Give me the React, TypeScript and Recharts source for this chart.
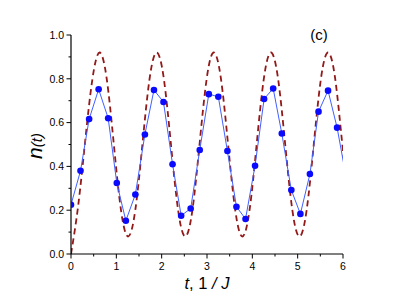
import React from "react";
import { LineChart, Line, XAxis, YAxis } from "recharts";

// blue points (simulation), t in 1/J
const simT = [0, 0.21, 0.4, 0.61, 0.82, 1.01, 1.21, 1.42, 1.63, 1.83, 2.04, 2.24, 2.43, 2.64, 2.84, 3.04, 3.25, 3.45, 3.65, 3.85, 4.06, 4.26, 4.46, 4.65, 4.86, 5.06, 5.27, 5.46, 5.67, 5.87, 6.07];
const simN = [0.225, 0.38, 0.616, 0.752, 0.62, 0.324, 0.152, 0.272, 0.546, 0.749, 0.694, 0.41, 0.175, 0.208, 0.475, 0.73, 0.718, 0.47, 0.216, 0.16, 0.403, 0.708, 0.756, 0.55, 0.292, 0.183, 0.365, 0.65, 0.746, 0.577, 0.35];

// dashed curve
const exactT = [0, 0.158, 0.315, 0.473, 0.63, 0.788, 0.945, 1.103, 1.26, 1.418, 1.575, 1.733, 1.89, 2.048, 2.205, 2.363, 2.52, 2.678, 2.835, 2.993, 3.15, 3.308, 3.465, 3.623, 3.78, 3.938, 4.095, 4.253, 4.41, 4.568, 4.725, 4.883, 5.04, 5.198, 5.355, 5.513, 5.67, 5.828, 5.985, 6.143];
const exactN = [0, 0.22, 0.52, 0.8, 0.92, 0.8, 0.5, 0.2, 0.08, 0.2, 0.5, 0.8, 0.92, 0.8, 0.5, 0.2, 0.08, 0.2, 0.5, 0.8, 0.92, 0.8, 0.5, 0.2, 0.08, 0.2, 0.5, 0.8, 0.92, 0.8, 0.5, 0.2, 0.08, 0.2, 0.5, 0.8, 0.92, 0.8, 0.5, 0.2];

const xTicks = [0, 0.5, 1, 1.5, 2, 2.5, 3, 3.5, 4, 4.5, 5, 5.5, 6];
const yTicks = [0, 0.1, 0.2, 0.3, 0.4, 0.5, 0.6, 0.7, 0.8, 0.9, 1];

const font = "'Liberation Sans', Arial, sans-serif";

const simData = simT.map((t, i) => ({ t, n: simN[i] }));
const exactData = exactT.map((t, i) => ({ t, n: exactN[i] }));

function YTick(props: any) {
  const { x, y, payload } = props;
  const v = payload.value;
  const major = Math.round(v * 10) % 2 === 0;
  return (
    <g>
      <line x1={x - (major ? 4.5 : 2.5)} x2={x} y1={y} y2={y} stroke="#000" strokeWidth={1} />
      {major && (
        <text x={x - 7} y={y} dy="0.36em" textAnchor="end" fontSize={10.5} fontFamily={font} fill="#000">
          {v.toFixed(1)}
        </text>
      )}
    </g>
  );
}

function XTick(props: any) {
  const { x, y, payload } = props;
  const v = payload.value;
  const major = Number.isInteger(v);
  return (
    <g>
      <line x1={x} x2={x} y1={y} y2={y + (major ? 4.5 : 2.5)} stroke="#000" strokeWidth={1} />
      {major && (
        <text x={x} y={y + 16} textAnchor="middle" fontSize={10.5} fontFamily={font} fill="#000">
          {v}
        </text>
      )}
    </g>
  );
}

function SimDot(props: any) {
  const { cx, cy, payload } = props;
  if (payload.t > 6) return <g key={"d" + payload.t} />;
  return <circle key={"d" + payload.t} cx={cx} cy={cy} r={3.3} fill="#0a0aff" stroke="none" />;
}

export default function App() {
  return (
    <div style={{ position: "absolute", left: 0, top: 0, width: 399, height: 305, background: "#fff" }}>
      <LineChart
        width={399}
        height={305}
        margin={{ top: 35, right: 56, bottom: 21, left: 0 }}
        style={{ fontFamily: font }}
      >
        <XAxis
          dataKey="t"
          type="number"
          domain={[0, 6]}
          ticks={xTicks}
          allowDataOverflow
          height={30}
          tickSize={0}
          tickMargin={0}
          tickLine={false}
          axisLine={{ stroke: "#000", strokeWidth: 1.2 }}
          tick={(p: any) => <XTick {...p} />}
          interval={0}
        />
        <YAxis
          type="number"
          domain={[0, 1]}
          ticks={yTicks}
          allowDataOverflow
          width={71}
          tickSize={0}
          tickMargin={0}
          tickLine={false}
          axisLine={{ stroke: "#000", strokeWidth: 1.2 }}
          tick={(p: any) => <YTick {...p} />}
          interval={0}
        />
        <Line
          data={exactData}
          dataKey="n"
          type="natural"
          stroke="#931818"
          strokeWidth={1.8}
          strokeDasharray="6 4"
          dot={false}
          activeDot={false}
          isAnimationActive={false}
        />
        <Line
          data={simData}
          dataKey="n"
          type="linear"
          stroke="#4060ff"
          strokeWidth={1}
          dot={(p: any) => <SimDot {...p} />}
          activeDot={false}
          isAnimationActive={false}
        />
      </LineChart>
      <div
        style={{
          position: "absolute",
          left: 302,
          top: 26,
          width: 34,
          textAlign: "center",
          fontFamily: font,
          fontSize: 15,
          lineHeight: "18px",
          color: "#000",
        }}
      >
        (c)
      </div>
      <div
        style={{
          position: "absolute",
          left: 157,
          top: 274,
          width: 100,
          textAlign: "center",
          fontFamily: font,
          fontSize: 16.5,
          lineHeight: "18px",
          color: "#000",
        }}
      >
        <i>t</i>, 1 <i>/</i> <i>J</i>
      </div>
      <div
        style={{
          position: "absolute",
          left: 35 - 30,
          top: 145.5 - 12,
          width: 60,
          height: 24,
          lineHeight: "24px",
          textAlign: "center",
          fontFamily: font,
          fontStyle: "italic",
          color: "#000",
          transform: "rotate(-90deg)",
          whiteSpace: "nowrap",
        }}
      >
        <span style={{ fontSize: 21 }}>n</span>
        <span style={{ fontSize: 15 }}>(t)</span>
      </div>
    </div>
  );
}
